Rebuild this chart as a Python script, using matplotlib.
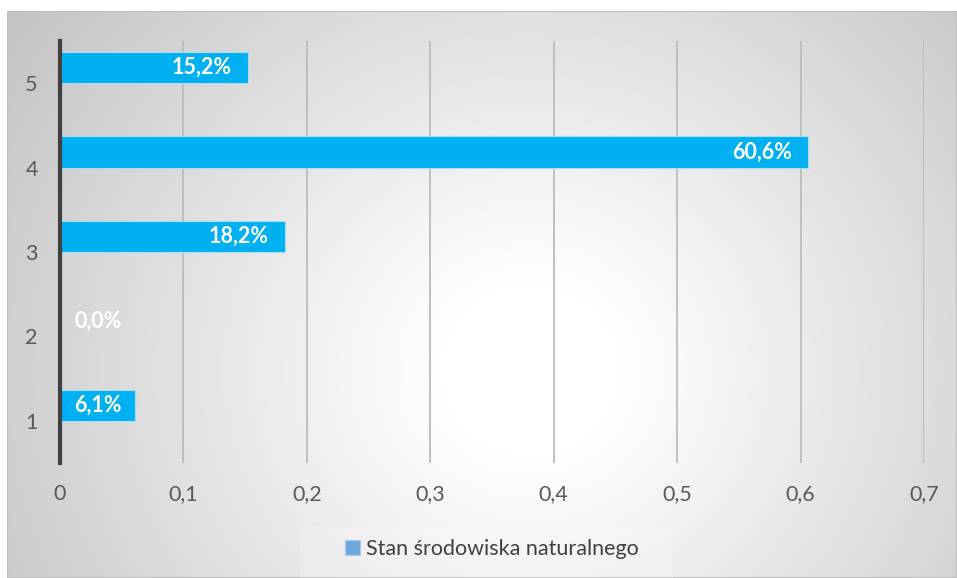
import numpy as np
import matplotlib
matplotlib.use("Agg")
import matplotlib.pyplot as plt
from matplotlib.patches import Patch, Rectangle

# --- data ---------------------------------------------------------------
categories = [1, 2, 3, 4, 5]
values = [0.061, 0.0, 0.182, 0.606, 0.152]
labels = ["6,1%", "0,0%", "18,2%", "60,6%", "15,2%"]
x_ticks = [0, 0.1, 0.2, 0.3, 0.4, 0.5, 0.6, 0.7]
x_tick_labels = ["0", "0,1", "0,2", "0,3", "0,4", "0,5", "0,6", "0,7"]
series_name = "Stan środowiska naturalnego"

plt.rcParams["font.family"] = ["Lato", "DejaVu Sans"]
FS = 15.5

W, H = 957, 578
fig = plt.figure(figsize=(W / 100, H / 100), dpi=100)
fig.patch.set_facecolor("white")

# --- chart-area background: radial grey-to-white gradient ---------------
x0, y0 = 7, 11  # chart area top-left corner in pixels
bg = fig.add_axes([x0 / W, 0, 1 - x0 / W, 1 - y0 / H], zorder=0)
gx, gy = np.meshgrid(np.arange(x0, W), np.arange(y0, H))
r = np.hypot(gx - 530, (gy - 370) * 1.05)
frac = np.clip((r - 90) / 580.0, 0, 1)
shade = 1.0 - frac * (255 - 192) / 255.0
bg.imshow(np.dstack([shade, shade, shade]), aspect="auto",
          extent=(0, 1, 0, 1), origin="upper", interpolation="bilinear")
bg.add_patch(Rectangle((0, 0), 1, 1, transform=bg.transAxes, fill=False,
                       edgecolor="#bfbfbf", linewidth=1.5))
bg.set_axis_off()

# faint panel behind the legend
fig.add_artist(Rectangle((300 / W, 0), 373 / W, 51 / H,
                         transform=fig.transFigure, facecolor="white",
                         alpha=0.18, edgecolor="none", zorder=0.5))

# --- plot area ------------------------------------------------------------
left, right = 60 / W, 924 / W
bottom, top = 1 - 463 / H, 1 - 41 / H
ax = fig.add_axes([left, bottom, right - left, top - bottom], zorder=1)
ax.patch.set_alpha(0)

bar_h = 0.37
ax.barh(categories, values, height=bar_h, align="edge", color="#00b0f0",
        edgecolor="#a8def5", linewidth=0.8, zorder=3)

# data labels, inside the bar end
label_min = 0.063
for c, v, t in zip(categories, values, labels):
    ax.annotate(t, xy=(max(v, label_min), c + bar_h / 2),
                xytext=(-11.5, 0), textcoords="offset points",
                ha="right", va="center", color="white", fontsize=FS,
                fontweight="bold", zorder=4)

ax.set_xlim(0, 0.7)
ax.set_ylim(0.5, 5.5)
ax.set_xticks(x_ticks)
ax.set_xticklabels(x_tick_labels)
ax.set_yticks(categories)
ax.tick_params(axis="both", length=0, labelsize=FS, colors="#595959")
ax.tick_params(axis="x", pad=15)
ax.tick_params(axis="y", pad=16)

ax.grid(axis="x", color="#bcbcbc", linewidth=1.3, zorder=1)
ax.set_axisbelow(True)
for s in ["top", "right", "bottom"]:
    ax.spines[s].set_visible(False)
ax.spines["left"].set_color("#404040")
ax.spines["left"].set_linewidth(3)
ax.spines["left"].set_zorder(5)

# --- legend -------------------------------------------------------------
handle = Patch(facecolor="#6fa8dc", edgecolor="#a9cbeb", linewidth=0.8)
leg = fig.legend([handle], [series_name], loc="center",
                 bbox_to_anchor=(492 / W, 1 - 549 / H), frameon=False,
                 fontsize=FS, handlelength=0.7, handleheight=0.7,
                 handletextpad=0.3, labelcolor="#404040")

fig.savefig("out.png", dpi=100)
